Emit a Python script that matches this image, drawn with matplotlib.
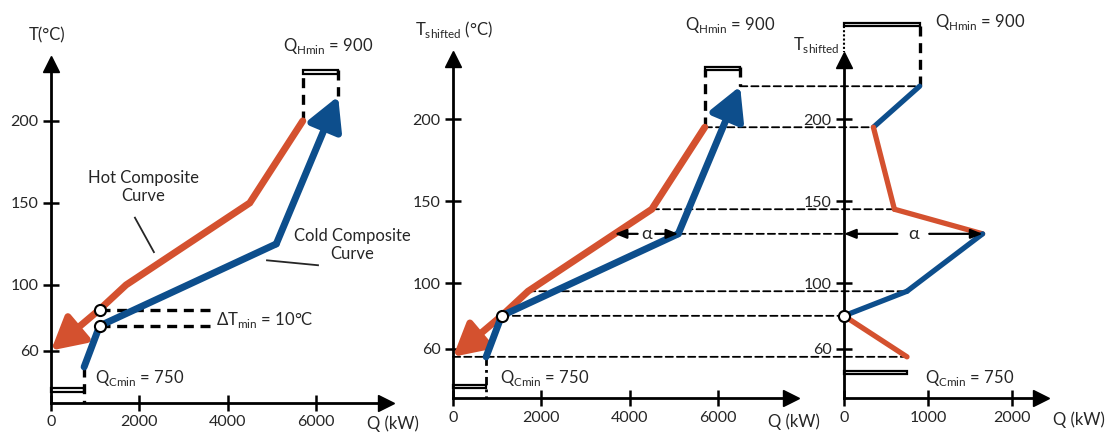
"""Composite curves, shifted composite curves and grand composite curve."""
import matplotlib

matplotlib.use("Agg")
import matplotlib.pyplot as plt
import numpy as np
from matplotlib.patches import ConnectionPatch, Rectangle

W, H = 1107, 434
RED = "#d4512f"
BLUE = "#0d4e8c"
INK = "#262626"

# composite curves (Q in kW, T in degC)
hot_q = [5700, 4500, 1700, 1100, 0]
hot_t = [200, 150, 100, 85, 60]
cold_q = [750, 1100, 5100, 6500]
cold_t = [50, 75, 125, 215]

# shifted composite curves
hot_q_s = [5700, 4500, 1700, 1100, 0]
hot_t_s = [195, 145, 95, 80, 55]
cold_q_s = [750, 1100, 5100, 6500]
cold_t_s = [55, 80, 130, 220]

# grand composite curve
gcc_t = [220, 195, 145, 130, 95, 80, 55]
gcc_q = [900, 350, 600, 1650, 750, 0, 750]
gcc_colors = [BLUE, RED, RED, BLUE, BLUE, RED]

# where each dashed temperature guide leaves the shifted composite plot
guide_q_start = [6500, 5700, 4500, 5100, 1700, 1100, 0]

q_ticks = [0, 2000, 4000, 6000]
q_ticks_gcc = [0, 1000, 2000]
t_ticks = [60, 100, 150, 200]
dt_guide_q = 3700

plt.rcParams["font.family"] = ["Lato", "DejaVu Sans"]
plt.rcParams["text.color"] = INK


def panel(fig, ox, oy, right, top, q_px, t0, t_px, xticks):
    """Axes whose origin sits at pixel (ox, oy); q_px/t_px are pixels per unit."""
    ax = fig.add_axes([ox / W, 1 - oy / H, (right - ox) / W, (oy - top) / H])
    ax.set_xlim(0, (right - ox) / q_px)
    ax.set_ylim(t0, t0 + (oy - top) / t_px)
    ax.patch.set_visible(False)
    for s in ("top", "right"):
        ax.spines[s].set_visible(False)
    for s in ("left", "bottom"):
        ax.spines[s].set_linewidth(2)
    ax.tick_params(direction="inout", length=12, width=1.8, labelsize=11.5,
                   labelcolor=INK, pad=3)
    ax.set_xticks(xticks)
    ax.set_yticks(t_ticks)
    ax.plot(1, 0, ">", color="k", ms=11, transform=ax.transAxes, clip_on=False)
    ax.plot(0, 1, "^", color="k", ms=11, transform=ax.transAxes, clip_on=False)
    return ax


def arrow_curve(ax, q, t, color, lw, scale):
    ax.plot(q[:-1], t[:-1], color=color, lw=lw, solid_capstyle="round",
            solid_joinstyle="miter", zorder=3)
    ax.annotate("", xy=(q[-1], t[-1]), xytext=(q[-2], t[-2]),
                arrowprops=dict(arrowstyle="-|>,head_length=0.55,head_width=0.3",
                                mutation_scale=scale, lw=lw, color=color,
                                shrinkA=0, shrinkB=0), zorder=3)


def double_arrow(ax, q_left, q_right, t, q_mid, gap):
    kw = dict(arrowstyle="-|>,head_length=0.5,head_width=0.2", mutation_scale=14,
              lw=1.6, color="k", shrinkA=0, shrinkB=0)
    ax.annotate("", xy=(q_left, t), xytext=(q_mid - gap, t), arrowprops=kw, zorder=4)
    ax.annotate("", xy=(q_right, t), xytext=(q_mid + gap, t), arrowprops=kw, zorder=4)
    ax.text(q_mid, t, "α", ha="center", va="center", fontsize=13, zorder=4)


def bracket(ax, q0, q1, t_lo, height):
    ax.add_patch(Rectangle((q0, t_lo), q1 - q0, height, fill=False, lw=1.6,
                           ec="k", clip_on=False))


def ftext(fig, x, y, s, **kw):
    kw.setdefault("fontsize", 12)
    fig.text(x / W, 1 - y / H, s, va="center", **kw)


fig = plt.figure(figsize=(W / 100, H / 100), dpi=100)
thick_dash = dict(color="k", lw=2.4, ls=(0, (3, 2)), clip_on=False)
thin_dash = dict(color="k", lw=1.3, ls=(0, (4, 2.2)))

# ---- panel 1: composite curves
ax1 = panel(fig, 51, 403, 386, 64, 0.04417, 28.0, 1.64, q_ticks)
arrow_curve(ax1, hot_q, hot_t, RED, 5, 36)
arrow_curve(ax1, cold_q, cold_t, BLUE, 5, 36)
for t in (hot_t[3], cold_t[1]):
    ax1.plot([hot_q[3], dt_guide_q], [t, t], **thick_dash)
ax1.plot([hot_q[3], cold_q[1]], [hot_t[3], cold_t[1]], "o", ms=8, mfc="white",
         mec="k", mew=1.5, zorder=5)
bracket(ax1, hot_q[0], cold_q[-1], 228.5, 2.6)
ax1.plot([hot_q[0], hot_q[0]], [hot_t[0], 228.5], **thick_dash)
ax1.plot([cold_q[-1], cold_q[-1]], [231.1, cold_t[-1]], **thick_dash)
bracket(ax1, 0, cold_q[0], 34.8, 2.5)
ax1.plot([cold_q[0], cold_q[0]], [cold_t[0], 28.0], **thick_dash)
ax1.plot([1900, 2330], [141, 120], color=INK, lw=1.3)
ax1.plot([4890, 6045], [115, 112], color=INK, lw=1.3)

ftext(fig, 47, 35, "T(°C)", ha="center")
ftext(fig, 143, 187, "Hot Composite\nCurve", ha="center", linespacing=1.15)
ftext(fig, 352, 245, "Cold Composite\nCurve", ha="center", linespacing=1.15)
ftext(fig, 216, 320, r"ΔT$_\mathregular{min}$ = 10°C", ha="left")
ftext(fig, 283, 46, r"Q$_\mathregular{Hmin}$ = 900", ha="left")
ftext(fig, 95, 378, r"Q$_\mathregular{Cmin}$ = 750", ha="left")
ftext(fig, 367, 424, "Q (kW)", ha="left")

# ---- panel 2: shifted composite curves
ax2 = panel(fig, 453, 398, 791, 59, 0.04417, 29.9, 1.64, q_ticks)
arrow_curve(ax2, hot_q_s, hot_t_s, RED, 5, 36)
arrow_curve(ax2, cold_q_s, cold_t_s, BLUE, 5, 36)
ax2.plot(hot_q_s[3], hot_t_s[3], "o", ms=8, mfc="white", mec="k", mew=1.5, zorder=5)
bracket(ax2, hot_q_s[0], cold_q_s[-1], 229.9, 1.8)
ax2.plot([hot_q_s[0], hot_q_s[0]], [hot_t_s[0], 229.9], **thick_dash)
ax2.plot([cold_q_s[-1], cold_q_s[-1]], [231.7, cold_t_s[-1]], **thick_dash)
bracket(ax2, 0, cold_q_s[0], 36.0, 1.8)
ax2.plot([cold_q_s[0], cold_q_s[0]], [cold_t_s[0], 29.9], color="k", lw=2,
         ls=(0, (3, 1.5, 1, 1.5)))
hot_at_alpha = np.interp(gcc_t[3], hot_t_s[::-1], hot_q_s[::-1])
double_arrow(ax2, hot_at_alpha, cold_q_s[2], gcc_t[3],
             (hot_at_alpha + cold_q_s[2]) / 2, 200)

ftext(fig, 415, 30, r"T$_\mathregular{shifted}$ (°C)", ha="left")
ftext(fig, 685, 25, r"Q$_\mathregular{Hmin}$ = 900", ha="left")
ftext(fig, 500, 378, r"Q$_\mathregular{Cmin}$ = 750", ha="left")
ftext(fig, 768, 422, "Q (kW)", ha="left")

# ---- panel 3: grand composite curve
ax3 = panel(fig, 844, 398, 1041, 60, 0.084, 29.9, 1.64, q_ticks_gcc)
for i, c in enumerate(gcc_colors):
    ax3.plot(gcc_q[i:i + 2], gcc_t[i:i + 2], color=c, lw=3.8,
             solid_capstyle="round", zorder=3)
ax3.plot(gcc_q[5], gcc_t[5], "o", ms=8, mfc="white", mec="k", mew=1.5,
         zorder=5, clip_on=False)
bracket(ax3, 0, gcc_q[0], 256.7, 1.8)
ax3.plot([0, 0], [256.7, 241], color="k", lw=1.5, ls=(0, (1, 1)), clip_on=False)
ax3.plot([gcc_q[0], gcc_q[0]], [256.7, gcc_t[0]], **thick_dash)
bracket(ax3, 0, gcc_q[-1], 44.5, 1.8)
double_arrow(ax3, 0, gcc_q[3], gcc_t[3], gcc_q[3] / 2, 190)

# dashed guides run under both axes (negative zorder keeps them below the curves)
for q0, q1, t in zip(guide_q_start, gcc_q, gcc_t):
    if t == gcc_t[3]:
        q1 = 0
    con = ConnectionPatch((q0, t), (q1, t), coordsA=ax2.transData,
                          coordsB=ax3.transData, zorder=-1, **thin_dash)
    fig.add_artist(con)

ftext(fig, 793, 45, r"T$_\mathregular{shifted}$", ha="left")
ftext(fig, 935, 22, r"Q$_\mathregular{Hmin}$ = 900", ha="left")
ftext(fig, 925, 378, r"Q$_\mathregular{Cmin}$ = 750", ha="left")
ftext(fig, 1053, 420, "Q (kW)", ha="left")

fig.savefig("out.png", dpi=100)
